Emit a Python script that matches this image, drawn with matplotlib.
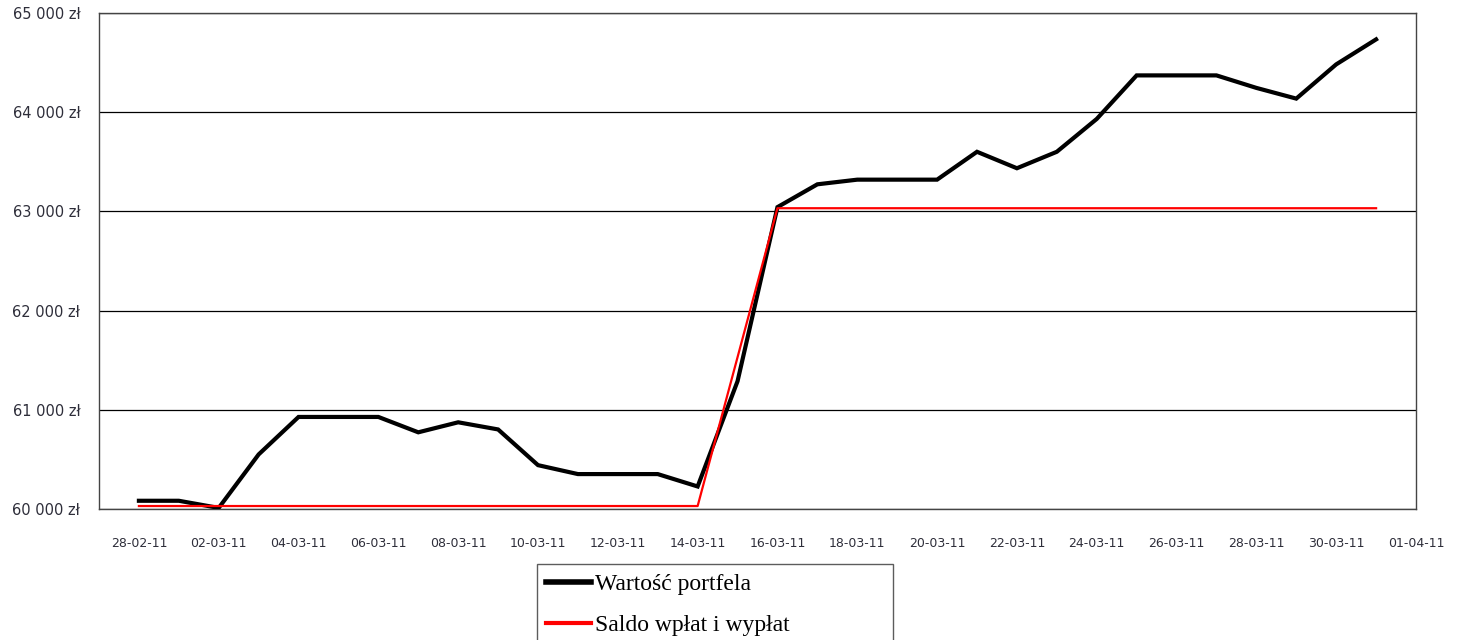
import matplotlib
matplotlib.use("Agg")
import matplotlib.pyplot as plt
import matplotlib.dates as mdates
import numpy as np
import datetime as dt

start = dt.date(2011, 2, 28)
dates = [start + dt.timedelta(days=i) for i in range(32)]

portfolio = [60083, 60083, 60011, 60550, 60928, 60928, 60928, 60773, 60874, 60802,
             60442, 60352, 60352, 60352, 60227, 61288, 63043, 63273, 63320, 63320,
             63320, 63601, 63435, 63601, 63932, 64371, 64371, 64371, 64245, 64137,
             64482, 64734]
balance = [60030] * 15 + [61530] + [63032] * 16

label_portfolio = "Wartość portfela"
label_balance = "Saldo wpłat i wypłat"

fig = plt.figure(figsize=(14.59, 6.40), dpi=100)
ax = fig.add_axes([99/1459, 1-509/640, (1416-99)/1459, (509-13)/640])

ax.plot(dates, portfolio, color="black", lw=3.0, solid_joinstyle="miter", label=label_portfolio, zorder=3)
ax.plot(dates, balance, color="#ff0000", lw=1.6, label=label_balance, zorder=4)

ax.set_ylim(60000, 65000)
ax.set_yticks(np.arange(60000, 65001, 1000))
ax.set_yticklabels([f"{v//1000} 000 zł" for v in range(60000, 65001, 1000)])
ax.yaxis.grid(True, color="black", lw=0.9)
ax.set_axisbelow(True)

ax.set_xlim(mdates.date2num(dt.date(2011, 2, 27)), mdates.date2num(dt.date(2011, 4, 1)))
ticks = [dt.date(2011, 2, 28) + dt.timedelta(days=2*i) for i in range(17)]
ax.set_xticks(ticks)
ax.xaxis.set_major_formatter(mdates.DateFormatter("%d-%m-%y"))

ax.tick_params(axis="both", length=0, colors="#2e2e3a", labelfontfamily="DejaVu Sans")
ax.tick_params(axis="y", labelsize=10.5, pad=13.5)
ax.tick_params(axis="x", labelsize=9, pad=20)
for s in ax.spines.values():
    s.set_color("#444444")
    s.set_linewidth(1.0)

h = 0.01
leg = fig.legend(loc="upper left",
                 bbox_to_anchor=(537/1459, 1-564/640 - h, (893-537)/1459, h),
                 mode="expand", frameon=True, fancybox=False, ncol=1,
                 prop={"family": "Liberation Serif", "size": 17},
                 handlelength=1.9, handletextpad=0.15, borderpad=0.4,
                 labelspacing=0.82, borderaxespad=0)
leg.get_frame().set_edgecolor("#333333")
leg.get_frame().set_linewidth(1.0)
leg.get_lines()[0].set_linewidth(4.0)
leg.get_lines()[1].set_linewidth(3.0)

fig.savefig("out.png", dpi=100)
